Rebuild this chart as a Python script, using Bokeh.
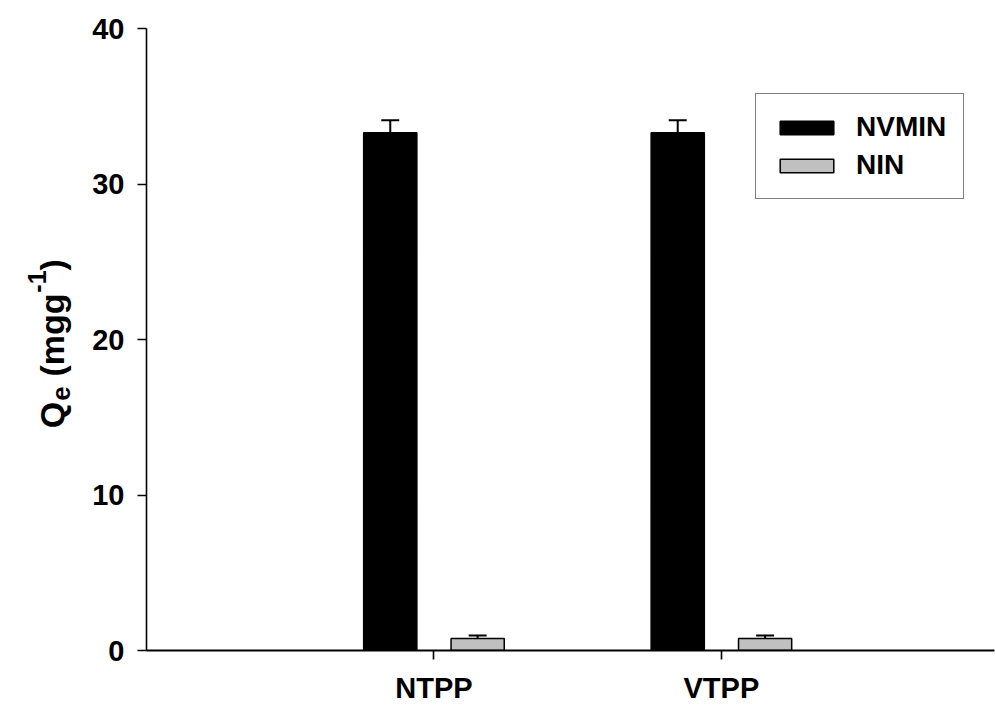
import math
from bokeh.plotting import figure
from bokeh.layouts import row
from bokeh.models import (Range1d, FixedTicker, Whisker, TeeHead, ColumnDataSource,
                          Legend, LegendItem)
from bokeh.core.properties import value
from bokeh.embed import file_html
from bokeh.resources import INLINE

# ---- data ----
categories = ["NTPP", "VTPP"]
nvmin = [33.3, 33.3]
nvmin_err = [0.8, 0.8]
nin = [0.77, 0.77]
nin_err = [0.2, 0.2]
y_ticks = [0, 10, 20, 30, 40]
series_names = ["NVMIN", "NIN"]
ytitle_parts = ["Q", "e", "(mgg", "-1", ")"]
ytitle_kind = ["main", "sub", "main", "sup", "main"]

FONT = "Liberation Sans"
pos = [i + 1 for i in range(len(categories))]
X0, X1 = 0, 2.95
Y0, Y1 = 0, 40
W, H = 995, 706
LW = 75  # width of the strip holding the y title
FT, FB = 28, 652  # frame top / bottom in page pixels

p = figure(width=W - LW, height=H, output_backend="svg", toolbar_location=None,
           title=None,
           x_range=Range1d(X0, X1), y_range=Range1d(Y0, Y1),
           min_border_left=146 - LW, min_border_right=1, min_border_top=FT,
           min_border_bottom=H - FB)
p.outline_line_color = None
p.xgrid.visible = False
p.ygrid.visible = False
p.background_fill_color = "white"
p.border_fill_color = "white"

off, bw = 0.152, 0.185
src1 = ColumnDataSource(dict(x=[v - off for v in pos], top=nvmin,
                             up=[a + b for a, b in zip(nvmin, nvmin_err)]))
src2 = ColumnDataSource(dict(x=[v + off for v in pos], top=nin,
                             up=[a + b for a, b in zip(nin, nin_err)]))

r1 = p.vbar(x="x", top="top", bottom=0, width=bw, source=src1,
            fill_color="black", line_color="black", line_width=1.5)
r2 = p.vbar(x="x", top="top", bottom=0, width=bw, source=src2,
            fill_color="#c0c0c0", line_color="black", line_width=1.5)

for s in (src1, src2):
    w = Whisker(base="x", lower="top", upper="up", source=s, dimension="height",
                line_color="black", line_width=2,
                lower_head=None,
                upper_head=TeeHead(size=18, line_color="black", line_width=2))
    w.level = "underlay"
    p.add_layout(w)

# axes
for ax in (p.xaxis, p.yaxis):
    ax.minor_tick_line_color = None
    ax.major_tick_out = 9
    ax.major_tick_in = 0
    ax.major_tick_line_width = 1.6
    ax.major_label_text_font = FONT
    ax.major_label_text_font_style = "bold"
    ax.major_label_text_font_size = "29px"
    ax.major_label_text_color = "black"
    ax.axis_line_color = "black"
    ax.major_tick_line_color = "black"

p.yaxis.ticker = FixedTicker(ticks=y_ticks)
p.yaxis.axis_line_width = 1.6
p.yaxis.major_label_standoff = 13

p.xaxis.ticker = FixedTicker(ticks=pos)
p.xaxis.major_label_overrides = {v: c for v, c in zip(pos, categories)}
p.xaxis.axis_line_width = 2.2
p.xaxis.major_label_standoff = 12

# legend
legend = Legend(items=[LegendItem(label=series_names[0], renderers=[r1]),
                       LegendItem(label=series_names[1], renderers=[r2])],
                location=(609, 451))
legend.glyph_width = 67
legend.glyph_height = 17
legend.label_text_font = FONT
legend.label_text_font_style = "bold"
legend.label_text_font_size = "28px"
legend.label_text_color = "black"
legend.label_standoff = 16
legend.padding = 17
legend.spacing = 6
legend.border_line_color = "black"
legend.border_line_width = 1.5
legend.background_fill_alpha = 1
p.add_layout(legend)

# ---- y-axis title strip ----
# The row aligns this strip's frame with the main frame (FT..FB), so the y range
# below makes one data unit equal one pixel, measured up from the page bottom.
t = figure(width=LW, height=H, output_backend="svg", toolbar_location=None,
           title=None, x_axis_location=None, y_axis_location=None,
           x_range=Range1d(0, LW), y_range=Range1d(H - FB, H - FT),
           min_border=0, min_border_left=0, min_border_right=0,
           min_border_top=FT, min_border_bottom=H - FB)
t.grid.visible = False
t.outline_line_color = None
t.background_fill_color = "white"
t.border_fill_color = "white"

adv = {"Q": .778, "e": .556, " ": .278, "(": .333, "m": .889, "g": .611,
       "-": .333, "1": .556, ")": .333}
sizes = {"main": 34, "sub": 26, "sup": 25}
shift = {"main": 0, "sub": 9, "sup": -15}
gap_before = [0, 1, 10, 1, 0]  # extra px gap before each part
base_x = 51
ycur = 429  # page y (from top) where the rotated title starts
xs, ys, fs = [], [], []
for txt, kind, g in zip(ytitle_parts, ytitle_kind, gap_before):
    ycur -= g
    xs.append(base_x + shift[kind])
    ys.append(H - ycur)
    fs.append(f"{sizes[kind]}px")
    ycur -= sum(adv[c] for c in txt) * sizes[kind]
tsrc = ColumnDataSource(dict(x=xs, y=ys, text=ytitle_parts, fs=fs))
t.text(x="x", y="y", text="text", source=tsrc, angle=math.pi / 2,
       text_font=value(FONT), text_font_style="bold", text_font_size="fs",
       text_color="black", text_align="left", text_baseline="alphabetic")

layout = row(t, p)
open("out.html", "w").write(file_html(layout, INLINE))
